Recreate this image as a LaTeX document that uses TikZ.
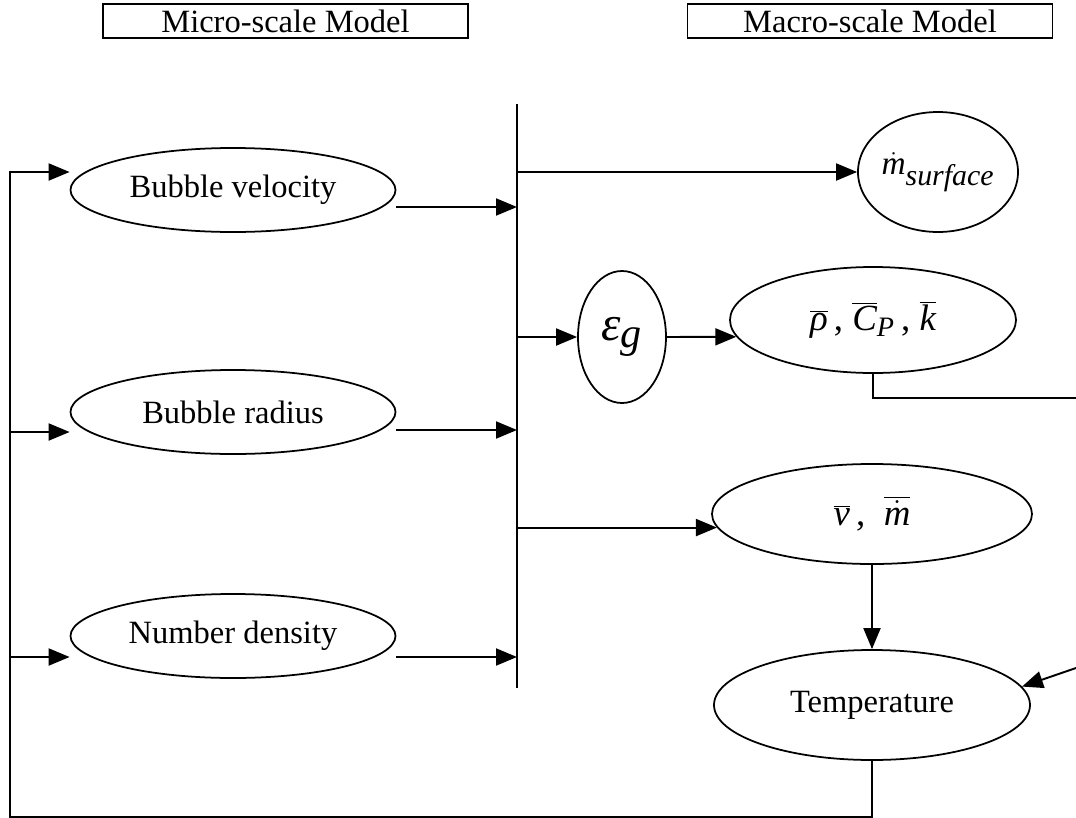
\documentclass[tikz,border=0pt]{standalone}
\usepackage{fontspec}
\setmainfont{Liberation Serif}
\usetikzlibrary{shapes.geometric,arrows.meta}

\begin{document}
\begin{tikzpicture}[line width=1.1pt]
% Styles
\tikzset{
    model/.style={ellipse, draw, line width=1pt, inner sep=0pt, font=\fontsize{18.5}{20}\selectfont},
    title/.style={draw, line width=0.6pt, minimum width=7.3cm, minimum height=0.68cm, inner sep=0pt, font=\fontsize{18.5}{20}\selectfont},
    arr/.style={-{Triangle[length=4.2mm,width=3.4mm]}}
}
\useasboundingbox (0,0) rectangle (21.52,-16.36);

% Headers
\node[title] (micro) at (5.71,-0.42) {Micro-scale Model};
\node[title] (macro) at (17.40,-0.42) {Macro-scale Model};

% Micro-scale nodes
\node[model, minimum width=6.5cm, minimum height=1.68cm] (vel) at (4.66,-3.80) {Bubble velocity};
\node[model, minimum width=6.5cm, minimum height=1.68cm] (rad) at (4.66,-8.24) {Bubble radius};
\node[model, minimum width=6.5cm, minimum height=1.68cm] (dens) at (4.66,-12.72) {Number density};

% Macro-scale nodes
\node[model, minimum width=3.2cm, minimum height=2.4cm, inner xsep=-2pt, font=\fontsize{19}{22}\selectfont] (msurf) at (18.76,-3.44) {$\dot{\textit{m}}_{\mbox{\fontsize{17}{19}\selectfont\itshape surface}}$};
\node[model, minimum width=1.76cm, minimum height=2.64cm, font=\fontsize{28}{30}\selectfont] (eps) at (12.44,-6.74) {$\textit{ε}_{\mbox{\fontsize{24}{26}\selectfont\itshape g}}$};
\node[model, minimum width=5.72cm, minimum height=2.12cm, font=\fontsize{21}{24}\selectfont] (rho) at (17.46,-6.40) {$\overline{\textit{ρ}}$\,, $\overline{\textit{C}}_{\mbox{\fontsize{16}{18}\selectfont\itshape P}}$\,, $\overline{\textit{k}}$};
\node[model, minimum width=6.4cm, minimum height=2.0cm, font=\fontsize{21}{24}\selectfont] (vbar) at (17.44,-10.28) {$\overline{\textit{v}}$\,, \ $\overline{\dot{\textit{m}}}$};
\node[model, minimum width=6.32cm, minimum height=2.2cm] (temp) at (17.44,-14.10) {Temperature};

% Bus and loose ends
\coordinate (busTop) at (10.34,-2.08);
\coordinate (busBot) at (10.34,-13.76);
\coordinate (fbBot) at (0.2,-16.34);
\coordinate (offOut) at (21.52,-7.96);
\coordinate (offIn) at (21.52,-13.36);

% Ports on the micro-scale ellipses
\coordinate (velOut) at ([yshift=-0.34cm]vel.east);
\coordinate (radOut) at ([yshift=-0.36cm]rad.east);
\coordinate (densOut) at ([yshift=-0.42cm]dens.east);
\coordinate (velIn) at ([yshift=0.36cm]vel.west);
\coordinate (radIn) at ([yshift=-0.40cm]rad.west);
\coordinate (densIn) at ([yshift=-0.42cm]dens.west);

% Connections
\draw (busTop) -- (busBot);
\draw[arr] (velOut) -- (velOut -| busTop);
\draw[arr] (radOut) -- (radOut -| busTop);
\draw[arr] (densOut) -- (densOut -| busTop);

\draw[arr] (busTop |- msurf.west) -- (msurf.west);
\draw[arr] (busTop |- eps.west) -- (eps.west);
\draw[arr] (eps.east) -- (rho.187);
\draw[arr] (busTop |- vbar.185) -- (vbar.185);
\draw[arr] (vbar.south) -- (temp.north);

\draw (rho.south) |- (offOut);
\draw[arr] (offIn) -- (temp.7);

% Feedback loop
\draw[arr] (temp.south) |- (fbBot) |- (velIn);
\draw[arr] (fbBot |- radIn) -- (radIn);
\draw[arr] (fbBot |- densIn) -- (densIn);
\end{tikzpicture}
\end{document}
